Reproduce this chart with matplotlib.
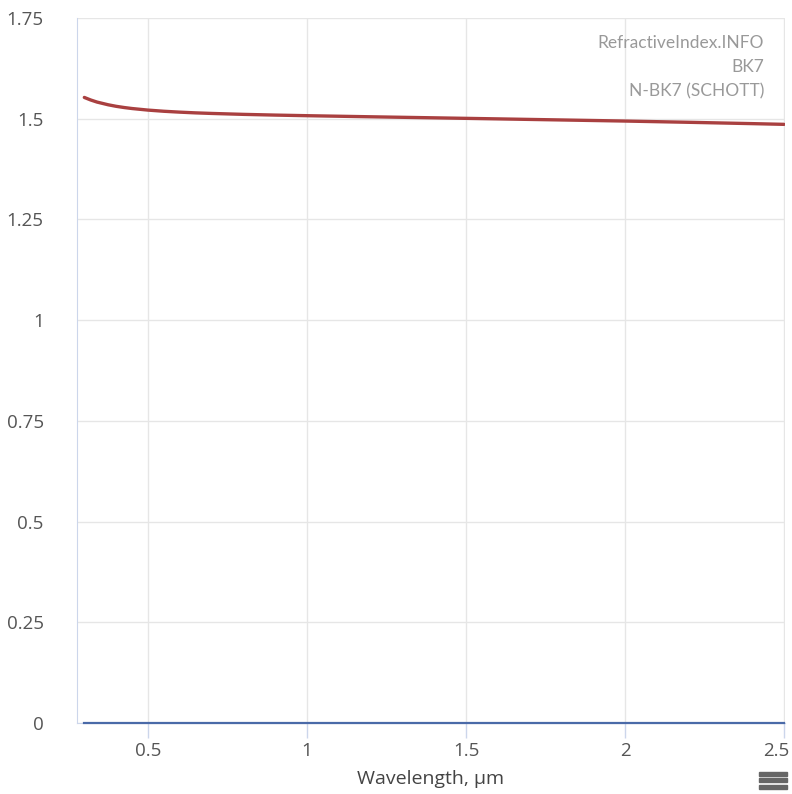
import matplotlib.pyplot as plt
import matplotlib.transforms as mtransforms
from matplotlib.patches import Rectangle

# N-BK7 (SCHOTT) refractive index
WAVELENGTH = [0.30, 0.32, 0.34, 0.375, 0.40, 0.425, 0.45, 0.50, 0.55, 0.60,
              0.65, 0.70, 0.80, 0.90, 1.00, 1.20, 1.40, 1.60, 1.80, 2.00,
              2.20, 2.40, 2.50]
N_VALUES = [1.5528, 1.5465, 1.5413, 1.5346, 1.5308, 1.5278, 1.5253, 1.5214,
            1.5185, 1.5163, 1.5145, 1.5131, 1.5108, 1.5090, 1.5075, 1.5048,
            1.5022, 1.4996, 1.4969, 1.4942, 1.4911, 1.4878, 1.4860]
K_VALUES = [0.0] * len(WAVELENGTH)

Y_TICKS = [0, 0.25, 0.5, 0.75, 1, 1.25, 1.5, 1.75]
Y_TICK_LABELS = ['0', '0.25', '0.5', '0.75', '1', '1.25', '1.5', '1.75']
X_TICKS = [0.5, 1, 1.5, 2, 2.5]
X_TICK_LABELS = ['0.5', '1', '1.5', '2', '2.5']
CREDITS = ['RefractiveIndex.INFO', 'BK7', 'N-BK7 (SCHOTT)']

plt.rcParams['font.family'] = ['Open Sans', 'DejaVu Sans']

fig = plt.figure(figsize=(7.92, 7.94), dpi=100)
W, H = 792, 794
left, right, top, bottom = 77, 785, 18, 723
ax = fig.add_axes([left / W, (H - bottom) / H, (right - left) / W, (bottom - top) / H])

ax.plot(WAVELENGTH, N_VALUES, color='#a94040', linewidth=2.4,
        solid_capstyle='round', solid_joinstyle='round', zorder=3)
ax.plot(WAVELENGTH, K_VALUES, color='#4a6aa8', linewidth=1.6, zorder=3, clip_on=False)

ax.set_xlim(0.277, 2.503)
ax.set_ylim(0, 1.75)
ax.set_xticks(X_TICKS)
ax.set_xticklabels(X_TICK_LABELS)
ax.set_yticks(Y_TICKS)
ax.set_yticklabels(Y_TICK_LABELS)

ax.grid(True, color='#e6e6e6', linewidth=1)
ax.set_axisbelow(True)
for side in ['top', 'right']:
    ax.spines[side].set_visible(False)
ax.spines['left'].set_color('#ccd6eb')
ax.spines['bottom'].set_color('#ccd6eb')

ax.tick_params(axis='x', length=11, width=1, color='#ccd6eb', pad=3,
               labelsize=13.5, labelcolor='#555555')
ax.tick_params(axis='y', length=0, pad=24, labelsize=13.5, labelcolor='#555555')

# last x label is pulled inside the figure, like the original
last = ax.get_xticklabels()[-1]
last.set_transform(last.get_transform() + mtransforms.ScaledTranslation(-8 / 100, 0, fig.dpi_scale_trans))

ax.set_xlabel('Wavelength, µm', fontsize=14, color='#444444', labelpad=7)

for i, line in enumerate(CREDITS):
    fig.text(764 / W, 1 - (43 + 24 * i) / H, line, ha='right', va='center',
             fontsize=12.5, color='#999999', family=['Lato', 'DejaVu Sans'])

# menu icon
for yc in [773.5, 780, 786.5]:
    fig.patches.append(Rectangle((759 / W, 1 - (yc + 2) / H), 28 / W, 4 / H,
                                 transform=fig.transFigure, color='#666666'))

fig.savefig('out.png', dpi=100)
